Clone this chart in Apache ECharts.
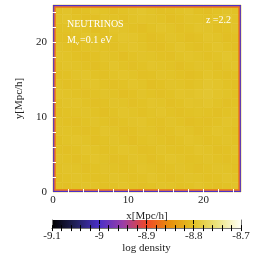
<!DOCTYPE html>
<html><head><meta charset="utf-8">
<script src="https://cdn.jsdelivr.net/npm/echarts@6/dist/echarts.min.js"></script>
<style>html,body{margin:0;padding:0;background:#fff}#c{width:255px;height:255px}</style>
</head><body><div id="c"></div>
<script>
const boxSize = 25;
const axisLabels = [0, 10, 20];
const axisTickValues = [2, 4, 6, 8, 10, 12, 14, 16, 18, 20, 22, 24];
const cbarTicks = [-9.1, -9.0, -8.9, -8.8, -8.7];
const cmapColors = ['#000000', '#20205a', '#4a30c8', '#9a3ea8', '#f04828', '#e8900c', '#e2c226', '#ece480', '#fffff6'];
const edgeValues = [-9.0, -8.93, -8.87];
const densityRows = [
[-8.800,-8.798,-8.802,-8.801,-8.797,-8.799,-8.803,-8.800,-8.798,-8.796,-8.799,-8.802,-8.801,-8.799,-8.797,-8.801,-8.803,-8.800,-8.798,-8.800],
[-8.799,-8.797,-8.800,-8.803,-8.802,-8.798,-8.800,-8.802,-8.799,-8.797,-8.798,-8.800,-8.803,-8.801,-8.798,-8.799,-8.801,-8.800,-8.797,-8.799],
[-8.801,-8.800,-8.798,-8.800,-8.803,-8.801,-8.797,-8.798,-8.801,-8.803,-8.800,-8.797,-8.799,-8.802,-8.800,-8.797,-8.798,-8.802,-8.801,-8.798],
[-8.802,-8.803,-8.800,-8.797,-8.799,-8.802,-8.800,-8.796,-8.797,-8.800,-8.803,-8.801,-8.798,-8.800,-8.803,-8.801,-8.797,-8.799,-8.803,-8.801],
[-8.798,-8.801,-8.803,-8.800,-8.798,-8.800,-8.802,-8.799,-8.797,-8.799,-8.802,-8.803,-8.800,-8.797,-8.800,-8.802,-8.800,-8.797,-8.800,-8.802],
[-8.797,-8.799,-8.801,-8.803,-8.801,-8.798,-8.800,-8.803,-8.800,-8.798,-8.799,-8.801,-8.802,-8.799,-8.797,-8.799,-8.801,-8.799,-8.796,-8.799],
[-8.800,-8.798,-8.799,-8.801,-8.803,-8.800,-8.797,-8.800,-8.802,-8.800,-8.797,-8.799,-8.800,-8.803,-8.800,-8.798,-8.799,-8.802,-8.799,-8.797],
[-8.802,-8.801,-8.798,-8.797,-8.800,-8.802,-8.799,-8.797,-8.799,-8.802,-8.801,-8.798,-8.799,-8.801,-8.803,-8.801,-8.797,-8.800,-8.802,-8.800],
[-8.799,-8.802,-8.801,-8.798,-8.797,-8.800,-8.802,-8.800,-8.797,-8.799,-8.803,-8.801,-8.798,-8.799,-8.801,-8.799,-8.795,-8.797,-8.800,-8.802],
[-8.797,-8.799,-8.800,-8.802,-8.800,-8.798,-8.800,-8.803,-8.801,-8.798,-8.800,-8.802,-8.800,-8.797,-8.798,-8.796,-8.794,-8.797,-8.799,-8.801],
[-8.800,-8.798,-8.797,-8.800,-8.802,-8.801,-8.798,-8.799,-8.802,-8.800,-8.797,-8.799,-8.802,-8.800,-8.797,-8.798,-8.796,-8.799,-8.802,-8.800],
[-8.802,-8.800,-8.799,-8.798,-8.800,-8.803,-8.800,-8.797,-8.799,-8.801,-8.799,-8.797,-8.800,-8.802,-8.800,-8.799,-8.800,-8.802,-8.800,-8.798],
[-8.799,-8.801,-8.802,-8.800,-8.798,-8.800,-8.802,-8.800,-8.798,-8.797,-8.800,-8.801,-8.798,-8.800,-8.803,-8.801,-8.802,-8.800,-8.797,-8.799],
[-8.798,-8.799,-8.800,-8.802,-8.801,-8.797,-8.799,-8.802,-8.801,-8.798,-8.799,-8.802,-8.800,-8.797,-8.799,-8.802,-8.800,-8.797,-8.799,-8.801],
[-8.801,-8.799,-8.797,-8.799,-8.802,-8.800,-8.798,-8.800,-8.803,-8.800,-8.798,-8.800,-8.802,-8.800,-8.797,-8.799,-8.801,-8.800,-8.798,-8.800],
[-8.800,-8.802,-8.800,-8.797,-8.799,-8.801,-8.800,-8.797,-8.799,-8.802,-8.801,-8.798,-8.800,-8.801,-8.800,-8.797,-8.799,-8.802,-8.801,-8.798],
[-8.798,-8.800,-8.802,-8.800,-8.797,-8.799,-8.802,-8.801,-8.798,-8.799,-8.802,-8.800,-8.797,-8.799,-8.801,-8.800,-8.798,-8.800,-8.802,-8.800],
[-8.800,-8.798,-8.799,-8.802,-8.800,-8.798,-8.800,-8.801,-8.800,-8.797,-8.799,-8.801,-8.800,-8.798,-8.800,-8.802,-8.800,-8.798,-8.799,-8.801],
[-8.802,-8.800,-8.798,-8.800,-8.801,-8.800,-8.798,-8.799,-8.801,-8.800,-8.797,-8.800,-8.802,-8.800,-8.798,-8.799,-8.801,-8.800,-8.797,-8.799],
[-8.800,-8.802,-8.800,-8.798,-8.799,-8.801,-8.800,-8.797,-8.800,-8.802,-8.800,-8.798,-8.799,-8.801,-8.800,-8.797,-8.800,-8.802,-8.800,-8.798]
];

const FONT = '"Liberation Serif", "DejaVu Serif", serif';
const nCols = densityRows[0].length, nRows = densityRows.length;
const cellW = boxSize / nCols, cellH = boxSize / nRows;
const edgeW = 0.12;

const fieldData = [];
densityRows.forEach((row, r) => row.forEach((v, c) => fieldData.push([c, r, v])));
const edgeData = edgeValues.map((v, k) => [k, 0, v]);

function rectFrom(api, x0, y0, x1, y1, fill, strokeW) {
  const a = api.coord([x0, y0]), b = api.coord([x1, y1]);
  return { type: 'rect', shape: { x: Math.min(a[0], b[0]), y: Math.min(a[1], b[1]), width: Math.abs(b[0] - a[0]), height: Math.abs(b[1] - a[1]) },
    style: strokeW ? { fill: fill, stroke: fill, lineWidth: strokeW } : { fill: fill } };
}

const chart = echarts.init(document.getElementById('c'), null, { renderer: 'canvas' });

const mainTickStyle = { show: true, inside: true, length: 3, lineStyle: { color: '#fff', width: 1 }, customValues: axisTickValues };
const mainLabel = { fontFamily: FONT, fontSize: 11, color: '#222', customValues: axisLabels };

chart.setOption({
  animation: false,
  grid: [
    { left: 53, top: 5, width: 188, height: 187 },
    { left: 52, top: 220, width: 189, height: 14 }
  ],
  xAxis: [
    { type: 'value', gridIndex: 0, min: 0, max: boxSize, position: 'bottom', z: 10,
      axisLine: { show: false }, splitLine: { show: false }, axisTick: mainTickStyle,
      axisLabel: Object.assign({ margin: 3 }, mainLabel),
      name: 'x[Mpc/h]', nameLocation: 'middle', nameGap: 12,
      nameTextStyle: { fontFamily: FONT, fontSize: 11, color: '#222' } },
    { type: 'value', gridIndex: 0, min: 0, max: boxSize, position: 'top', z: 10,
      axisLine: { show: false }, splitLine: { show: false }, axisTick: mainTickStyle,
      axisLabel: { show: false } },
    { type: 'value', gridIndex: 1, min: cbarTicks[0], max: cbarTicks[cbarTicks.length - 1], interval: 0.1, position: 'bottom', z: 10,
      axisLine: { show: true, lineStyle: { color: '#777', width: 1 } },
      axisTick: { show: true, inside: true, length: 3, lineStyle: { color: '#000' } },
      minorTick: { show: true, splitNumber: 5, length: 3, lineStyle: { color: '#000' } },
      splitLine: { show: true, showMinLine: false, showMaxLine: false, lineStyle: { color: '#000', type: [4, 3], width: 1 } },
      axisLabel: { fontFamily: FONT, fontSize: 11, color: '#222', margin: 3 },
      name: 'log density', nameLocation: 'middle', nameGap: 12,
      nameTextStyle: { fontFamily: FONT, fontSize: 11, color: '#222' } },
    { type: 'value', gridIndex: 1, min: cbarTicks[0], max: cbarTicks[cbarTicks.length - 1], interval: 0.1, position: 'top', z: 10,
      axisLine: { show: true, lineStyle: { color: '#777', width: 1 } },
      axisTick: { show: true, inside: true, length: 3, lineStyle: { color: '#000' } },
      minorTick: { show: true, splitNumber: 5, length: 3, lineStyle: { color: '#000' } },
      splitLine: { show: false }, axisLabel: { show: false } }
  ],
  yAxis: [
    { type: 'value', gridIndex: 0, min: 0, max: boxSize, position: 'left', z: 10,
      axisLine: { show: false }, splitLine: { show: false }, axisTick: mainTickStyle,
      axisLabel: Object.assign({ margin: 6 }, mainLabel),
      name: 'y[Mpc/h]', nameLocation: 'middle', nameGap: 27,
      nameTextStyle: { fontFamily: FONT, fontSize: 11, color: '#222' } },
    { type: 'value', gridIndex: 0, min: 0, max: boxSize, position: 'right', z: 10,
      axisLine: { show: false }, splitLine: { show: false }, axisTick: mainTickStyle,
      axisLabel: { show: false } },
    { type: 'value', gridIndex: 1, min: 0, max: 1, position: 'left', z: 10,
      axisLine: { show: true, lineStyle: { color: '#777', width: 1 } },
      axisTick: { show: false }, splitLine: { show: false }, axisLabel: { show: false } },
    { type: 'value', gridIndex: 1, min: 0, max: 1, position: 'right', z: 10,
      axisLine: { show: true, lineStyle: { color: '#777', width: 1 } },
      axisTick: { show: false }, splitLine: { show: false }, axisLabel: { show: false } }
  ],
  visualMap: {
    show: false, type: 'continuous', min: cbarTicks[0], max: cbarTicks[cbarTicks.length - 1],
    dimension: 2, seriesIndex: [0, 1], inRange: { color: cmapColors }
  },
  series: [
    { type: 'custom', xAxisIndex: 0, yAxisIndex: 0, data: fieldData, z: 2,
      encode: { x: 0, y: 1 },
      renderItem: function (params, api) {
        const c = api.value(0), r = api.value(1);
        return rectFrom(api, c * cellW, boxSize - r * cellH, (c + 1) * cellW, boxSize - (r + 1) * cellH, api.visual('color'), 0.6);
      } },
    { type: 'custom', xAxisIndex: 0, yAxisIndex: 0, data: edgeData, z: 3,
      encode: { x: 0, y: 1 },
      renderItem: function (params, api) {
        const k = api.value(0), col = api.visual('color');
        const d0 = k * edgeW, d1 = (k + 1) * edgeW, B = boxSize;
        return { type: 'group', children: [
          rectFrom(api, d0, d0, d1, B - d0, col),
          rectFrom(api, B - d1, d0, B - d0, B - d0, col),
          rectFrom(api, d0, d0, B - d0, d1, col),
          rectFrom(api, d0, B - d1, B - d0, B - d0, col)
        ] };
      } },
    { type: 'custom', xAxisIndex: 2, yAxisIndex: 2, data: [[0]], z: 2,
      renderItem: function (params, api) {
        const a = api.coord([cbarTicks[0], 0]), b = api.coord([cbarTicks[cbarTicks.length - 1], 1]);
        const stops = cmapColors.map((c, i) => ({ offset: i / (cmapColors.length - 1), color: c }));
        return { type: 'rect', shape: { x: a[0], y: b[1], width: b[0] - a[0], height: a[1] - b[1] },
          style: { fill: new echarts.graphic.LinearGradient(0, 0, 1, 0, stops) } };
      } }
  ],
  graphic: [
    { type: 'text', left: 67, top: 19, z: 20, style: { text: 'NEUTRINOS', fill: '#fff', font: '10px ' + FONT } },
    { type: 'text', left: 67, top: 35, z: 20, style: { text: 'M', fill: '#fff', font: '10px ' + FONT } },
    { type: 'text', left: 76, top: 40, z: 20, style: { text: 'ν', fill: '#fff', font: '6px ' + FONT } },
    { type: 'text', left: 80, top: 35, z: 20, style: { text: '=0.1 eV', fill: '#fff', font: '10px ' + FONT } },
    { type: 'text', right: 24, top: 15, z: 20, style: { text: 'z =2.2', fill: '#fff', font: '10px ' + FONT } }
  ]
});
</script>
</body></html>
